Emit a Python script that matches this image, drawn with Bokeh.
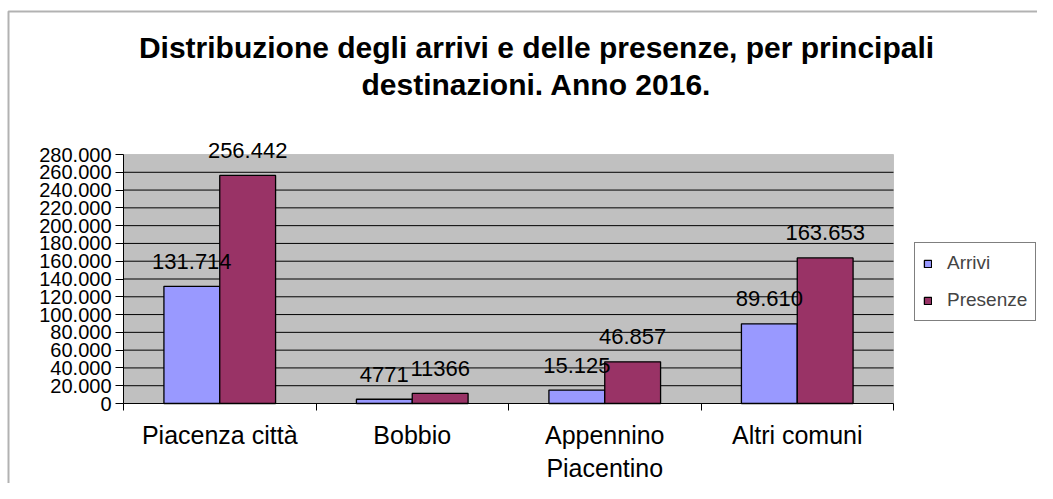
from bokeh.plotting import figure
from bokeh.models import (ColumnDataSource, FixedTicker, Label, LabelSet, Legend,
                          LegendItem, BoxAnnotation, LinearAxis, Range1d)
from bokeh.core.properties import value
from bokeh.embed import file_html
from bokeh.resources import INLINE

# ---- data ----
categories = ["Piacenza città", "Bobbio", "Appennino\nPiacentino", "Altri comuni"]
series = ["Arrivi", "Presenze"]
arrivi = [131714, 4771, 15125, 89610]
presenze = [256442, 11366, 46857, 163653]
arrivi_labels = ["131.714", "4771", "15.125", "89.610"]
presenze_labels = ["256.442", "11366", "46.857", "163.653"]
y_ticks = list(range(0, 280001, 20000))
title_lines = ["Distribuzione degli arrivi e delle presenze, per principali",
               "destinazioni. Anno 2016."]

# ---- layout (pixels inside the canvas) ----
FONT = "Liberation Sans"
W, H = 1037, 483
PL, PR, PT, PB = 123, 893, 154, 403      # plot-area box
BW = 0.29
n = len(categories)
ymax = y_ticks[-1]
sx = (PR - PL) / n                        # px per category
sy = (PB - PT) / ymax                     # px per unit value


def dx(px):
    return (px - PL) / sx


def dy(py):
    return (PB - py) / sy


p = figure(width=W, height=H, output_backend="svg", toolbar_location=None,
           title=None, x_axis_type=None, y_axis_type=None,
           x_range=Range1d(dx(0), dx(W)), y_range=Range1d(dy(H), dy(0)),
           min_border=0, min_border_left=0, min_border_right=0,
           min_border_top=0, min_border_bottom=0)
p.background_fill_color = "white"
p.border_fill_color = "white"
p.outline_line_color = None

# plot area (grey box) and grid lines
p.add_layout(BoxAnnotation(left=0, right=n, bottom=0, top=ymax, fill_color="#C0C0C0",
                           fill_alpha=1, line_color="#808080", line_width=1,
                           level="underlay"))
gl = y_ticks[1:-1]
p.segment(x0=[0] * len(gl), x1=[n] * len(gl), y0=gl, y1=gl, line_color="black",
          line_width=1)

idx = list(range(n))
src = ColumnDataSource(dict(
    xa=[i + 0.5 - BW / 2 for i in idx],
    xp=[i + 0.5 + BW / 2 for i in idx],
    arr=arrivi, pres=presenze, la=arrivi_labels, lp=presenze_labels))

ra = p.vbar(x="xa", top="arr", width=BW, source=src, fill_color="#9999FF",
            line_color="black", line_width=1.3)
rp = p.vbar(x="xp", top="pres", width=BW, source=src, fill_color="#993366",
            line_color="black", line_width=1.3)

for xcol, ycol, tcol in [("xa", "arr", "la"), ("xp", "pres", "lp")]:
    p.add_layout(LabelSet(x=xcol, y=ycol, text=tcol, source=src, text_align="center",
                          text_baseline="middle", y_offset=25,
                          text_font=value(FONT), text_font_size=value("22px"),
                          text_color="black"))

# y axis
ya = LinearAxis(fixed_location=0, bounds=(0, ymax))
ya.ticker = FixedTicker(ticks=y_ticks, minor_ticks=[])
ya.major_label_overrides = {t: f"{t:,}".replace(",", ".") for t in y_ticks}
ya.major_tick_in = 0
ya.major_tick_out = 8
ya.minor_tick_line_color = None
ya.axis_line_color = "black"
ya.major_tick_line_color = "black"
ya.major_label_text_font = FONT
ya.major_label_text_font_size = "20px"
ya.major_label_text_color = "black"
ya.major_label_standoff = 4
p.add_layout(ya, "left")

# x axis
xa = LinearAxis(fixed_location=0, bounds=(0, n))
xa.ticker = FixedTicker(ticks=[i + 0.5 for i in idx], minor_ticks=list(range(n + 1)))
xa.major_label_overrides = {i + 0.5: c for i, c in zip(idx, categories)}
xa.major_tick_in = 0
xa.major_tick_out = 0
xa.minor_tick_in = 0
xa.minor_tick_out = 7
xa.minor_tick_line_color = "black"
xa.axis_line_color = "black"
xa.major_label_text_font = FONT
xa.major_label_text_font_size = "25px"
xa.major_label_text_color = "black"
xa.major_label_standoff = 10
p.add_layout(xa, "below")

# legend (location is measured from the canvas bottom-left)
legend = Legend(items=[LegendItem(label=series[0], renderers=[ra]),
                       LegendItem(label=series[1], renderers=[rp])],
                location=(914, H - 242 - 79), orientation="vertical")
legend.border_line_color = "black"
legend.border_line_width = 1
legend.background_fill_color = "white"
legend.background_fill_alpha = 1
legend.label_text_font = FONT
legend.label_text_font_size = "19px"
legend.glyph_width = 9
legend.glyph_height = 9
legend.label_height = 24
legend.spacing = 13
legend.padding = 8
legend.label_standoff = 15
legend.margin = 0
p.add_layout(legend)

# title
for text, py in zip(title_lines, [47, 84]):
    p.add_layout(Label(x=dx(536), y=dy(py), text=text,
                       text_align="center", text_baseline="middle", text_font=FONT,
                       text_font_size="30px", text_font_style="bold", text_color="black"))

# outer frame of the chart
p.add_layout(BoxAnnotation(left=dx(8), right=dx(W + 20), top=dy(11), bottom=dy(H + 20),
                           fill_alpha=0, line_color="black", line_width=2))

open("out.html", "w").write(file_html(p, INLINE))
